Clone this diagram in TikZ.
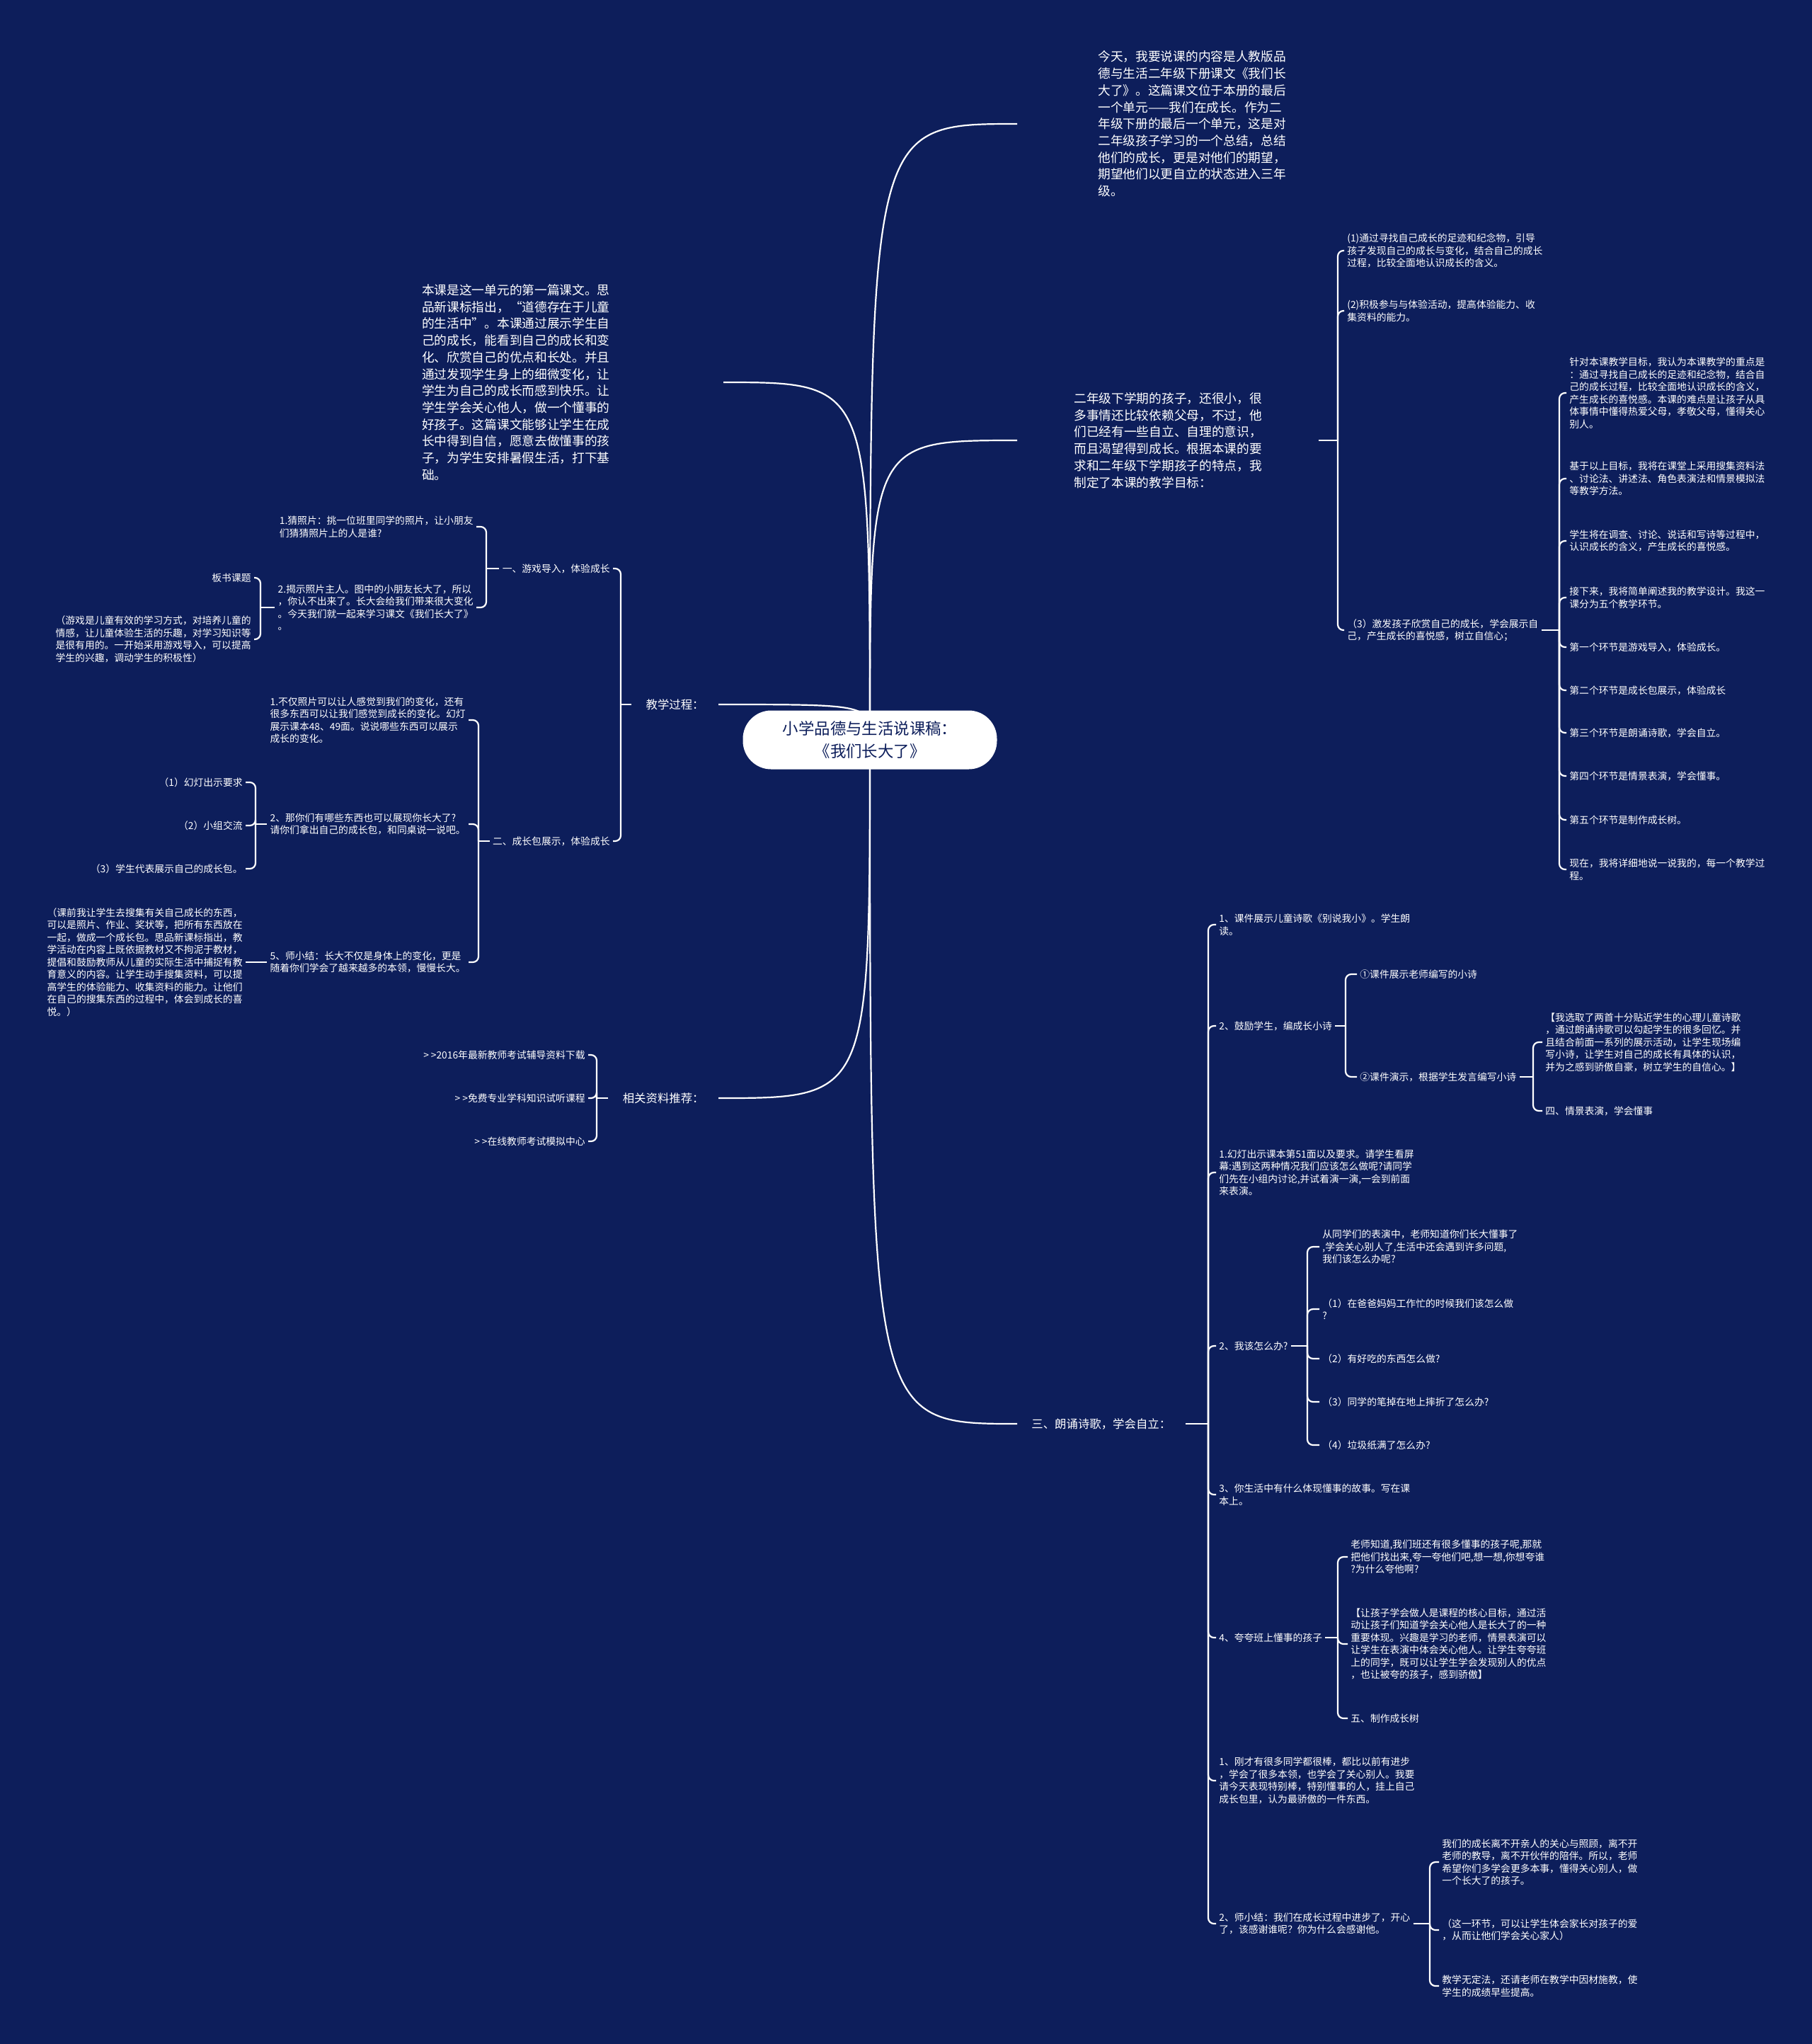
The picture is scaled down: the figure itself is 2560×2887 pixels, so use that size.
\documentclass[tikz,border=0pt]{standalone}
\usepackage{fontspec}
\setmainfont{Noto Sans CJK SC}
\definecolor{navy}{RGB}{13,30,91}
\pgfdeclarelayer{bg}
\pgfdeclarelayer{wires}
\pgfsetlayers{bg,wires,main}
\newcommand{\gtgt}{>\kern1.5pt>}
\tikzset{
  link/.style={white,line width=1.1pt},
  brace/.style={link,rounded corners=4pt},
  root/.style={fill=white,text=navy,rounded corners=20pt,align=center,minimum width=179.5pt,minimum height=41.5pt,font=\fontsize{11.2pt}{15.6pt}\selectfont},
  para/.style={text=white,align=left,inner ysep=0pt,font=\fontsize{8.85pt}{11.85pt}\selectfont},
  topic/.style={text=white,inner xsep=10pt,inner ysep=0pt,font=\fontsize{8.2pt}{10pt}\selectfont},
  leaf/.style={text=white,align=left,inner xsep=2pt,inner ysep=0pt,font=\fontsize{6.9pt}{8.75pt}\selectfont}
}
\begin{document}
\begin{tikzpicture}[x=0.5pt,y=-0.5pt]
\begin{pgfonlayer}{bg}
\fill[navy] (0,0) rectangle (2560,2887);
\end{pgfonlayer}
\useasboundingbox (0,0) rectangle (2560,2887);

\node[root] (root) at (1229,1045) {小学品德与生活说课稿：\\《我们长大了》};

\node[para,inner xsep=57pt,anchor=west] (today) at (1437,175) {今天，我要说课的内容是人教版品\\
德与生活二年级下册课文《我们长\\
大了》。这篇课文位于本册的最后\\
一个单元——我们在成长。作为二\\
年级下册的最后一个单元，这是对\\
二年级孩子学习的一个总结，总结\\
他们的成长，更是对他们的期望，\\
期望他们以更自立的状态进入三年\\
级。};
\node[para,inner xsep=40pt,anchor=west] (goal) at (1437,622) {二年级下学期的孩子，还很小，很\\
多事情还比较依赖父母，不过，他\\
们已经有一些自立、自理的意识，\\
而且渴望得到成长。根据本课的要\\
求和二年级下学期孩子的特点，我\\
制定了本课的教学目标：};
\node[topic,anchor=west] (poem) at (1437,2011) {三、朗诵诗歌，学会自立：};
\node[para,inner xsep=80pt,anchor=east] (unit) at (1022,540) {本课是这一单元的第一篇课文。思\\
品新课标指出，“道德存在于儿童\\
的生活中”。本课通过展示学生自\\
己的成长，能看到自己的成长和变\\
化、欣赏自己的优点和长处。并且\\
通过发现学生身上的细微变化，让\\
学生为自己的成长而感到快乐。让\\
学生学会关心他人，做一个懂事的\\
好孩子。这篇课文能够让学生在成\\
长中得到自信，愿意去做懂事的孩\\
子，为学生安排暑假生活，打下基\\
础。};
\node[topic,anchor=east] (proc) at (1015,995) {教学过程：};
\node[topic,anchor=east] (links) at (1015,1551) {相关资料推荐：};

\begin{pgfonlayer}{wires}
\foreach \t in {today,goal,poem}
  \draw[link] (root.center) .. controls (root.center |- \t.west) .. (\t.west);
\foreach \t in {unit,proc,links}
  \draw[link] (root.center) .. controls (root.center |- \t.east) .. (\t.east);
\end{pgfonlayer}

\node[leaf,anchor=west] (goal1) at (1899,354) {(1)通过寻找自己成长的足迹和纪念物，引导\\孩子发现自己的成长与变化，结合自己的成长\\过程，比较全面地认识成长的含义。};
\node[leaf,anchor=west] (goal2) at (1899,439) {(2)积极参与与体验活动，提高体验能力、收\\集资料的能力。};
\node[leaf,anchor=west] (goal3) at (1899,890) {（3）激发孩子欣赏自己的成长，学会展示自\\己，产生成长的喜悦感，树立自信心；};
\coordinate (goalb) at (1890,622);
\draw[link] (goal.east) -- (goalb);
\foreach \c in {goal1,goal2,goal3}
  \draw[brace] (goalb) |- (\c.west);

\node[leaf,anchor=west] (plan1) at (2213,555) {针对本课教学目标，我认为本课教学的重点是\\：通过寻找自己成长的足迹和纪念物，结合自\\己的成长过程，比较全面地认识成长的含义，\\产生成长的喜悦感。本课的难点是让孩子从具\\体事情中懂得热爱父母，孝敬父母，懂得关心\\别人。};
\node[leaf,anchor=west] (plan2) at (2213,676) {基于以上目标，我将在课堂上采用搜集资料法\\、讨论法、讲述法、角色表演法和情景模拟法\\等教学方法。};
\node[leaf,anchor=west] (plan3) at (2213,764) {学生将在调查、讨论、说话和写诗等过程中，\\认识成长的含义，产生成长的喜悦感。};
\node[leaf,anchor=west] (plan4) at (2213,844) {接下来，我将简单阐述我的教学设计。我这一\\课分为五个教学环节。};
\node[leaf,anchor=west] (plan5) at (2213,914) {第一个环节是游戏导入，体验成长。};
\node[leaf,anchor=west] (plan6) at (2213,975) {第二个环节是成长包展示，体验成长};
\node[leaf,anchor=west] (plan7) at (2213,1035) {第三个环节是朗诵诗歌，学会自立。};
\node[leaf,anchor=west] (plan8) at (2213,1096) {第四个环节是情景表演，学会懂事。};
\node[leaf,anchor=west] (plan9) at (2213,1158) {第五个环节是制作成长树。};
\node[leaf,anchor=west] (plan10) at (2213,1228) {现在，我将详细地说一说我的，每一个教学过\\程。};
\coordinate (goal3b) at (2203,890);
\draw[link] (goal3.east) -- (goal3b);
\foreach \c in {plan1,plan2,plan3,plan4,plan5,plan6,plan7,plan8,plan9,plan10}
  \draw[brace] (goal3b) |- (\c.west);

\node[leaf,anchor=west] (poem1) at (1718,1306) {1、课件展示儿童诗歌《别说我小》。学生朗\\读。};
\node[leaf,anchor=west] (poem2) at (1718,1449) {2、鼓励学生，编成长小诗};
\node[leaf,anchor=west] (poem3) at (1718,1656) {1.幻灯出示课本第51面以及要求。请学生看屏\\幕:遇到这两种情况我们应该怎么做呢?请同学\\们先在小组内讨论,并试着演一演,一会到前面\\来表演。};
\node[leaf,anchor=west] (poem4) at (1718,1901) {2、我该怎么办?};
\node[leaf,anchor=west] (poem5) at (1718,2111) {3、你生活中有什么体现懂事的故事。写在课\\本上。};
\node[leaf,anchor=west] (poem6) at (1718,2313) {4、夸夸班上懂事的孩子};
\node[leaf,anchor=west] (poem7) at (1718,2515) {1、刚才有很多同学都很棒，都比以前有进步\\，学会了很多本领，也学会了关心别人。我要\\请今天表现特别棒，特别懂事的人，挂上自己\\成长包里，认为最骄傲的一件东西。};
\node[leaf,anchor=west] (poem8) at (1718,2717) {2、师小结：我们在成长过程中进步了，开心\\了，该感谢谁呢？你为什么会感谢他。};
\coordinate (poemb) at (1707,2011);
\draw[link] (poem.east) -- (poemb);
\foreach \c in {poem1,poem2,poem3,poem4,poem5,poem6,poem7,poem8}
  \draw[brace] (poemb) |- (\c.west);

\node[leaf,anchor=west] (make1) at (1917,1376) {①课件展示老师编写的小诗};
\node[leaf,anchor=west] (make2) at (1917,1521) {②课件演示，根据学生发言编写小诗};
\coordinate (poem2b) at (1901,1449);
\draw[link] (poem2.east) -- (poem2b);
\foreach \c in {make1,make2}
  \draw[brace] (poem2b) |- (\c.west);

\node[leaf,anchor=west] (note1) at (2179,1472) {【我选取了两首十分贴近学生的心理儿童诗歌\\，通过朗诵诗歌可以勾起学生的很多回忆。并\\且结合前面一系列的展示活动，让学生现场编\\写小诗，让学生对自己的成长有具体的认识，\\并为之感到骄傲自豪，树立学生的自信心。】};
\node[leaf,anchor=west] (note2) at (2179,1569) {四、情景表演，学会懂事};
\coordinate (make2b) at (2166,1521);
\draw[link] (make2.east) -- (make2b);
\foreach \c in {note1,note2}
  \draw[brace] (make2b) |- (\c.west);

\node[leaf,anchor=west] (ask1) at (1864,1761) {从同学们的表演中，老师知道你们长大懂事了\\,学会关心别人了,生活中还会遇到许多问题,\\我们该怎么办呢?};
\node[leaf,anchor=west] (ask2) at (1864,1849) {（1）在爸爸妈妈工作忙的时候我们该怎么做\\?};
\node[leaf,anchor=west] (ask3) at (1864,1919) {（2）有好吃的东西怎么做?};
\node[leaf,anchor=west] (ask4) at (1864,1980) {（3）同学的笔掉在地上摔折了怎么办?};
\node[leaf,anchor=west] (ask5) at (1864,2041) {（4）垃圾纸满了怎么办?};
\coordinate (poem4b) at (1847,1901);
\draw[link] (poem4.east) -- (poem4b);
\foreach \c in {ask1,ask2,ask3,ask4,ask5}
  \draw[brace] (poem4b) |- (\c.west);

\node[leaf,anchor=west] (praise1) at (1904,2199) {老师知道,我们班还有很多懂事的孩子呢,那就\\把他们找出来,夸一夸他们吧,想一想,你想夸谁\\?为什么夸他啊?};
\node[leaf,anchor=west] (praise2) at (1904,2322) {【让孩子学会做人是课程的核心目标，通过活\\动让孩子们知道学会关心他人是长大了的一种\\重要体现。兴趣是学习的老师，情景表演可以\\让学生在表演中体会关心他人。让学生夸夸班\\上的同学，既可以让学生学会发现别人的优点\\，也让被夸的孩子，感到骄傲】};
\node[leaf,anchor=west] (praise3) at (1904,2427) {五、制作成长树};
\coordinate (poem6b) at (1890,2313);
\draw[link] (poem6.east) -- (poem6b);
\foreach \c in {praise1,praise2,praise3}
  \draw[brace] (poem6b) |- (\c.west);

\node[leaf,anchor=west] (thank1) at (2033,2630) {我们的成长离不开亲人的关心与照顾，离不开\\老师的教导，离不开伙伴的陪伴。所以，老师\\希望你们多学会更多本事，懂得关心别人，做\\一个长大了的孩子。};
\node[leaf,anchor=west] (thank2) at (2033,2726) {（这一环节，可以让学生体会家长对孩子的爱\\，从而让他们学会关心家人）};
\node[leaf,anchor=west] (thank3) at (2033,2805) {教学无定法，还请老师在教学中因材施教，使\\学生的成绩早些提高。};
\coordinate (poem8b) at (2020,2717);
\draw[link] (poem8.east) -- (poem8b);
\foreach \c in {thank1,thank2,thank3}
  \draw[brace] (poem8b) |- (\c.west);

\node[leaf,anchor=east] (proc1) at (866,803) {一、游戏导入，体验成长};
\node[leaf,anchor=east] (proc2) at (866,1188) {二、成长包展示，体验成长};
\coordinate (procb) at (877,995);
\draw[link] (proc.west) -- (procb);
\foreach \c in {proc1,proc2}
  \draw[brace] (procb) |- (\c.east);

\node[leaf,anchor=east] (game1) at (673,744) {1.猜照片：挑一位班里同学的照片，让小朋友\\们猜猜照片上的人是谁?};
\node[leaf,anchor=east] (game2) at (673,858) {2.揭示照片主人。图中的小朋友长大了，所以\\，你认不出来了。长大会给我们带来很大变化\\。今天我们就一起来学习课文《我们长大了》\\。};
\coordinate (proc1b) at (687,803);
\draw[link] (proc1.west) -- (proc1b);
\foreach \c in {game1,game2}
  \draw[brace] (proc1b) |- (\c.east);

\node[leaf,anchor=east] (board1) at (359,816) {板书课题};
\node[leaf,anchor=east] (board2) at (359,903) {（游戏是儿童有效的学习方式，对培养儿童的\\情感，让儿童体验生活的乐趣，对学习知识等\\是很有用的。一开始采用游戏导入，可以提高\\学生的兴趣，调动学生的积极性）};
\coordinate (game2b) at (368,858);
\draw[link] (game2.west) -- (game2b);
\foreach \c in {board1,board2}
  \draw[brace] (game2b) |- (\c.east);

\node[leaf,anchor=east] (bag1) at (662,1017) {1.不仅照片可以让人感觉到我们的变化，还有\\很多东西可以让我们感觉到成长的变化。幻灯\\展示课本48、49面。说说哪些东西可以展示\\成长的变化。};
\node[leaf,anchor=east] (bag2) at (662,1164) {2、那你们有哪些东西也可以展现你长大了?\\请你们拿出自己的成长包，和同桌说一说吧。};
\node[leaf,anchor=east] (bag3) at (662,1359) {5、师小结：长大不仅是身体上的变化，更是\\随着你们学会了越来越多的本领，慢慢长大。};
\coordinate (proc2b) at (676,1188);
\draw[link] (proc2.west) -- (proc2b);
\foreach \c in {bag1,bag2,bag3}
  \draw[brace] (proc2b) |- (\c.east);

\node[leaf,anchor=east] (step1) at (347,1105) {（1）幻灯出示要求};
\node[leaf,anchor=east] (step2) at (347,1166) {（2）小组交流};
\node[leaf,anchor=east] (step3) at (347,1227) {（3）学生代表展示自己的成长包。};
\coordinate (bag2b) at (361,1164);
\draw[link] (bag2.west) -- (bag2b);
\foreach \c in {step1,step2,step3}
  \draw[brace] (bag2b) |- (\c.east);

\node[leaf,anchor=east] (prep) at (347,1359) {（课前我让学生去搜集有关自己成长的东西，\\可以是照片、作业、奖状等，把所有东西放在\\一起，做成一个成长包。思品新课标指出，教\\学活动在内容上既依据教材又不拘泥于教材，\\提倡和鼓励教师从儿童的实际生活中捕捉有教\\育意义的内容。让学生动手搜集资料，可以提\\高学生的体验能力、收集资料的能力。让他们\\在自己的搜集东西的过程中，体会到成长的喜\\悦。）};
\draw[link] (bag3.west) -- (prep.east);

\node[leaf,anchor=east] (link1) at (831,1490) {\gtgt 2016年最新教师考试辅导资料下载};
\node[leaf,anchor=east] (link2) at (831,1551) {\gtgt 免费专业学科知识试听课程};
\node[leaf,anchor=east] (link3) at (831,1612) {\gtgt 在线教师考试模拟中心};
\coordinate (linksb) at (843,1551);
\draw[link] (links.west) -- (linksb);
\foreach \c in {link1,link2,link3}
  \draw[brace] (linksb) |- (\c.east);
\end{tikzpicture}
\end{document}
